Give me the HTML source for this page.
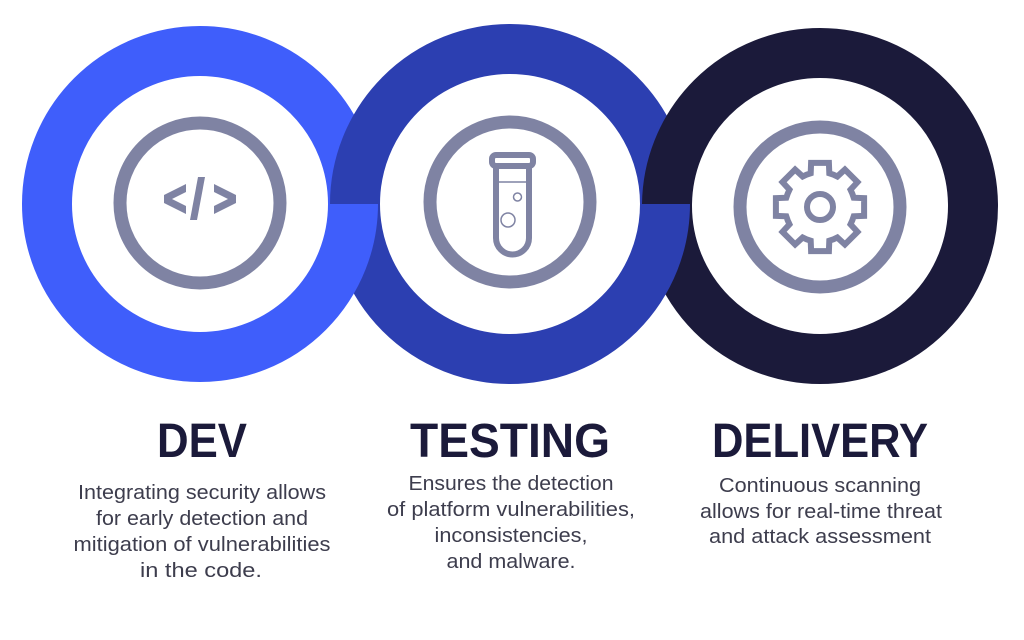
<!DOCTYPE html>
<html><head><meta charset="utf-8"><style>
html,body{margin:0;padding:0;background:#fff;}
svg{display:block;}
.t{font-family:"Liberation Sans",sans-serif;font-weight:bold;fill:#1b1a3a;font-size:48px;}
.b{font-family:"Liberation Sans",sans-serif;fill:#3d3d4d;font-size:20px;}
</style></head><body>
<svg width="1024" height="640" viewBox="0 0 1024 640" xmlns="http://www.w3.org/2000/svg">
<defs>
<clipPath id="top"><rect x="0" y="0" width="1024" height="204"/></clipPath>
<clipPath id="bot"><rect x="0" y="204" width="1024" height="300"/></clipPath>
</defs>
<g clip-path="url(#top)" fill="none" stroke-width="50">
<circle cx="200" cy="204" r="153" stroke="#3f5efb"/>
<circle cx="510" cy="204" r="155" stroke="#2c3fb1"/>
<circle cx="820" cy="206" r="153" stroke="#1b1a3a"/>
</g>
<g clip-path="url(#bot)" fill="none" stroke-width="50">
<circle cx="820" cy="206" r="153" stroke="#1b1a3a"/>
<circle cx="510" cy="204" r="155" stroke="#2c3fb1"/>
<circle cx="200" cy="204" r="153" stroke="#3f5efb"/>
</g>
<g fill="none" stroke="#7f83a3" stroke-width="13">
<circle cx="200" cy="203" r="80"/>
<circle cx="510" cy="202" r="80"/>
<circle cx="820" cy="207" r="80"/>
</g>
<g fill="#7f83a3">
<polygon points="186,184 186,192 172,199 186,206 186,214 164,203 164,195"/>
<polygon points="214,184 214,192 228,199 214,206 214,214 236,203 236,195"/>
<polygon points="198,177 205,177 197,220 190,220"/>
</g>
<g fill="none" stroke="#7f83a3" stroke-width="6">
<rect x="492" y="155" width="41" height="11" rx="4"/>
<path d="M496 166 V238 A16.5 16.5 0 0 0 529 238 V166"/>
</g>
<line x1="498" y1="182" x2="527" y2="182" stroke="#7f83a3" stroke-width="1.5"/>
<circle cx="517.5" cy="197" r="4" fill="none" stroke="#7f83a3" stroke-width="1.5"/>
<circle cx="508" cy="220" r="7" fill="none" stroke="#7f83a3" stroke-width="1.5"/>
<polygon id="gear" fill="none" stroke="#7f83a3" stroke-width="6" stroke-linejoin="miter" points=""/>
<circle cx="820" cy="207" r="13" fill="none" stroke="#7f83a3" stroke-width="6"/>
<text class="t" x="202" y="457" text-anchor="middle" textLength="90" lengthAdjust="spacingAndGlyphs">DEV</text>
<text class="t" x="510" y="457" text-anchor="middle" textLength="200" lengthAdjust="spacingAndGlyphs">TESTING</text>
<text class="t" x="820" y="457" text-anchor="middle" textLength="216" lengthAdjust="spacingAndGlyphs">DELIVERY</text>
<g class="b" text-anchor="middle">
<text x="202" y="499" textLength="248" lengthAdjust="spacingAndGlyphs">Integrating security allows</text>
<text x="202" y="525" textLength="212" lengthAdjust="spacingAndGlyphs">for early detection and</text>
<text x="202" y="551" textLength="257" lengthAdjust="spacingAndGlyphs">mitigation of vulnerabilities</text>
<text x="201" y="577" textLength="122" lengthAdjust="spacingAndGlyphs">in the code.</text>
<text x="511" y="490" textLength="205" lengthAdjust="spacingAndGlyphs">Ensures the detection</text>
<text x="511" y="516" textLength="248" lengthAdjust="spacingAndGlyphs">of platform vulnerabilities,</text>
<text x="511" y="542" textLength="153" lengthAdjust="spacingAndGlyphs">inconsistencies,</text>
<text x="511" y="568" textLength="129" lengthAdjust="spacingAndGlyphs">and malware.</text>
<text x="820" y="492" textLength="202" lengthAdjust="spacingAndGlyphs">Continuous scanning</text>
<text x="821" y="518" textLength="242" lengthAdjust="spacingAndGlyphs">allows for real-time threat</text>
<text x="820" y="543" textLength="222" lengthAdjust="spacingAndGlyphs">and attack assessment</text>
</g>
</svg>
<script>
(function(){
var cx=820,cy=207,ro=45,ri=35,pts=[];
for(var i=0;i<8;i++){
 var a=i*Math.PI/4;
 var d1=0.20,d2=0.27;
 var seq=[[ri,a-Math.PI/8],[ri,a-d2],[ro,a-d1],[ro,a+d1],[ri,a+d2]];
 seq.forEach(function(p){pts.push((cx+p[0]*Math.cos(p[1])).toFixed(1)+","+(cy+p[0]*Math.sin(p[1])).toFixed(1));});
}
document.getElementById('gear').setAttribute('points',pts.join(' '));
})();
</script>
</body></html>
